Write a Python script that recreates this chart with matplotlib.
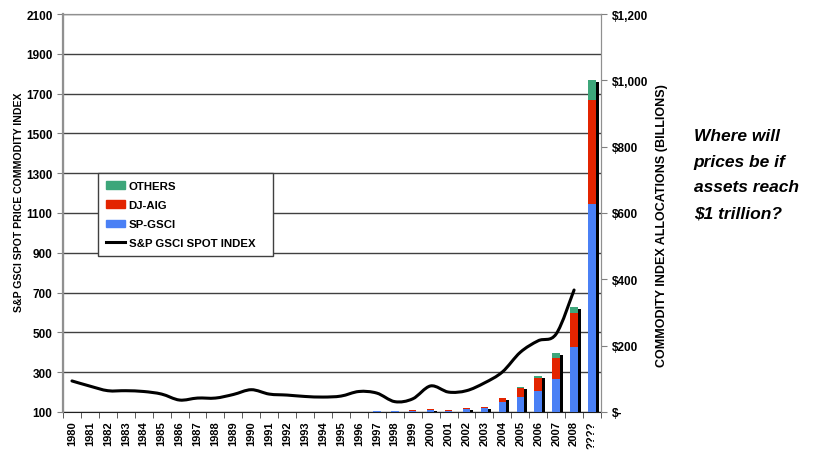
import numpy as np
import matplotlib
matplotlib.use('Agg')
import matplotlib.pyplot as plt
from matplotlib.path import Path
from matplotlib.patches import PathPatch
from matplotlib.lines import Line2D
from matplotlib.patches import Patch
import matplotlib.transforms as mtransforms

plt.rcParams['font.family'] = ['Liberation Sans', 'DejaVu Sans']
plt.rcParams['font.weight'] = 'bold'

# Categories
years = [str(y) for y in range(1980, 2009)] + ['????']

# S&P GSCI spot index (left axis), 1980-2008
spot_index = [256, 230, 207, 207, 203, 190, 160, 170, 170, 188, 212, 190, 185,
              178, 175, 180, 203, 195, 152, 166, 231, 200, 207, 246, 301, 400,
              458, 492, 713]

# Commodity index allocations, billions (right axis)
sp_gsci = [0, 0, 0, 0, 0, 0, 0, 0, 0, 0, 0, 0, 0, 0, 0, 0, 1, 2, 2, 4, 5, 3,
           9, 11, 31, 44, 64, 100, 197, 627]
dj_aig = [0, 0, 0, 0, 0, 0, 0, 0, 0, 0, 0, 0, 0, 0, 0, 0, 0, 0, 0, 2, 3, 2,
          2, 4, 11, 28, 38, 64, 101, 314]
others = [0, 0, 0, 0, 0, 0, 0, 0, 0, 0, 0, 0, 0, 0, 0, 0, 0, 0, 0, 0, 0, 0,
          0, 1, 1, 3, 6, 13, 18, 59]

BLUE = '#4A80F5'
RED = '#E32400'
GREEN = '#3DA67A'


def smooth_path(xs, ys, t=1.0 / 6):
    # Excel-like smoothed line: cubic bezier through every data point
    pts = np.column_stack([xs, ys]).astype(float)
    verts = [pts[0]]
    codes = [Path.MOVETO]
    n = len(pts)
    for i in range(n - 1):
        p0 = pts[i - 1] if i > 0 else pts[i]
        p1, p2 = pts[i], pts[i + 1]
        p3 = pts[i + 2] if i + 2 < n else pts[i + 1]
        c1 = p1 + (p2 - p0) * t
        c2 = p2 - (p3 - p1) * t
        verts += [c1, c2, p2]
        codes += [Path.CURVE4] * 3
    return Path(verts, codes)


fig = plt.figure(figsize=(8.28, 4.52), dpi=100)
ax = fig.add_axes([0.0761, 0.0863, 0.6497, 0.8805])
ax2 = ax.twinx()

x = np.arange(len(years))
ax.set_xlim(-0.5, len(years) - 0.5)
ax.set_ylim(100, 2100)
ax.set_yticks(range(100, 2101, 200))
ax.grid(axis='y', color='#404040', linewidth=1.0)
ax.set_axisbelow(True)

# bars on the right axis, with a black drop shadow
ax2.set_ylim(0, 1200)
totals = np.array(sp_gsci) + np.array(dj_aig) + np.array(others)
shadow = mtransforms.offset_copy(ax2.transData, fig=fig, x=3, y=-2, units='dots')
w = 0.42
ax2.bar(x, totals, width=w, color='black', transform=shadow, zorder=1)
ax2.bar(x, sp_gsci, width=w, color=BLUE, zorder=2)
ax2.bar(x, dj_aig, width=w, bottom=sp_gsci, color=RED, zorder=2)
ax2.bar(x, others, width=w, bottom=np.array(sp_gsci) + np.array(dj_aig),
        color=GREEN, zorder=2)

# spot index line (drawn on top)
patch = PathPatch(smooth_path(x[:len(spot_index)], spot_index), facecolor='none',
                  edgecolor='black', linewidth=2.2,
                  capstyle='round', joinstyle='round')
ax2.add_patch(patch)
patch.set_transform(ax.transData)
patch.set_zorder(3)

ax.set_xticks(x)
ax.set_xticklabels(years, rotation=90, fontsize=8, fontweight='bold')
ax.set_xticks(np.arange(-0.5, len(years), 1), minor=True)
ax.tick_params(axis='x', which='major', length=0, pad=6)
ax.tick_params(axis='x', which='minor', length=4, color='#404040')
ax.tick_params(axis='y', labelsize=8.5, length=4, color='#808080')
for lab in ax.get_yticklabels():
    lab.set_fontweight('bold')

ax2.set_yticks(range(0, 1201, 200))
ax2.set_yticklabels(['$-', '$200', '$400', '$600', '$800', '$1,000', '$1,200'],
                    fontsize=8.5, fontweight='bold')
ax2.tick_params(axis='y', length=4, color='#808080', pad=4)

for s in ['left', 'right', 'top']:
    ax.spines[s].set_color('#909090')
    ax2.spines[s].set_color('#909090')
ax.spines['left'].set_linewidth(1.6)
ax.spines['bottom'].set_color('#202020')
ax2.spines['bottom'].set_visible(False)

ax.set_ylabel('S&P GSCI SPOT PRICE COMMODITY INDEX', fontsize=7.6,
              fontweight='bold')
ax.yaxis.set_label_coords(-0.072, 0.53)
ax2.set_ylabel('COMMODITY INDEX ALLOCATIONS (BILLIONS)', fontsize=9,
               fontweight='bold', rotation=90, va='center')
ax2.yaxis.set_label_coords(1.113, 0.472)

handles = [Patch(color=GREEN), Patch(color=RED), Patch(color=BLUE),
           Line2D([], [], color='black', linewidth=2.2)]
labels = ['OTHERS', 'DJ-AIG', 'SP-GSCI', 'S&P GSCI SPOT INDEX\u00a0\u00a0\u00a0']
leg = ax2.legend(handles, labels,
                 loc='upper left', bbox_to_anchor=(0.065, 0.6005),
                 prop={'size': 8.2, 'weight': 'bold'}, frameon=True,
                 fancybox=False, edgecolor='#404040', framealpha=1,
                 handlelength=1.65, handleheight=0.6, handletextpad=0.35,
                 labelspacing=0.8, borderpad=0.7, borderaxespad=0)
leg.get_frame().set_linewidth(1.0)
leg.set_zorder(5)

fig.text(0.838, 0.613, 'Where will\nprices be if\nassets reach\n$1 trillion?',
         fontsize=12.5, fontweight='bold', fontstyle='italic',
         va='center', ha='left', linespacing=1.9)

fig.savefig('out.png', dpi=100)
